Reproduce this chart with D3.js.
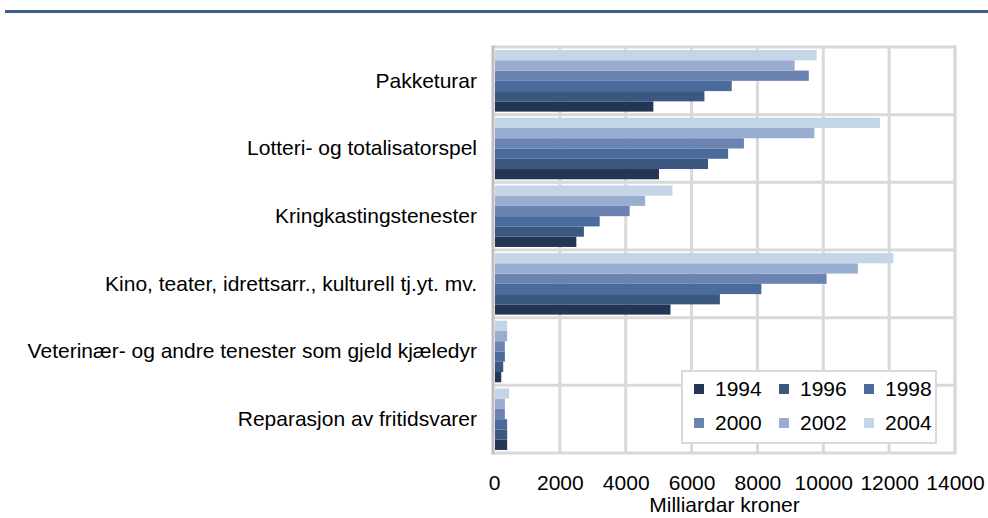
<!DOCTYPE html>
<html>
<head>
<meta charset="utf-8">
<script src="https://cdn.jsdelivr.net/npm/d3@7"></script>
<style>
    body { margin: 0; background: #fff; }
    svg text { font-family: "Liberation Sans", Arial, sans-serif; fill: #000; }
</style>
</head>
<body>
<div id="chart"></div>
<script>
// Data
var categories = [
    "Pakketurar",
    "Lotteri- og totalisatorspel",
    "Kringkastingstenester",
    "Kino, teater, idrettsarr., kulturell tj.yt. mv.",
    "Veterinær- og andre tenester som gjeld kjæledyr",
    "Reparasjon av fritidsvarer"
];
var years = ["1994", "1996", "1998", "2000", "2002", "2004"];
var values1994 = [4840, 5010, 2500, 5360, 220, 400];
var values1996 = [6390, 6500, 2730, 6860, 280, 400];
var values1998 = [7220, 7110, 3210, 8120, 330, 400];
var values2000 = [9560, 7590, 4120, 10100, 330, 330];
var values2002 = [9130, 9730, 4590, 11050, 400, 330];
var values2004 = [9800, 11720, 5420, 12130, 400, 460];
var seriesValues = [values1994, values1996, values1998, values2000, values2002, values2004];
var xTicks = [0, 2000, 4000, 6000, 8000, 10000, 12000, 14000];
var colors = ["#233654", "#3c5780", "#4a6b9c", "#6a83b1", "#98add0", "#c5d5e8"];

var totalWidth = 988, totalHeight = 518;
var margin = {top: 47, right: 33, bottom: 65, left: 494};
var width = totalWidth - margin.left - margin.right;
var height = totalHeight - margin.top - margin.bottom;

var svg = d3.select("#chart").append("svg")
    .attr("width", totalWidth)
    .attr("height", totalHeight);

// blue rule at the top
svg.append("rect")
    .attr("x", 5).attr("y", 10)
    .attr("width", totalWidth - 5).attr("height", 3)
    .attr("fill", "#3e5c8c");

var g = svg.append("g")
    .attr("transform", "translate(" + margin.left + "," + margin.top + ")");

// Scales
var xScale = d3.scaleLinear()
    .domain([0, 14000])
    .range([0, width]);

var yScale = d3.scaleBand()
    .domain(categories)
    .range([0, height])
    .paddingInner(0.09)
    .paddingOuter(0.045);

// 2004 on top, 1994 at the bottom
var yInner = d3.scaleBand()
    .domain(years.slice().reverse())
    .range([0, yScale.bandwidth()]);

var color = d3.scaleOrdinal().domain(years).range(colors);

// Grid
g.selectAll(".vgrid")
    .data(xTicks.slice(1))
    .enter().append("line")
    .attr("class", "vgrid")
    .attr("x1", function (d) { return xScale(d); })
    .attr("x2", function (d) { return xScale(d); })
    .attr("y1", 0).attr("y2", height)
    .attr("stroke", "#d9d9d9").attr("stroke-width", 3);

var step = yScale.step();
g.selectAll(".hgrid")
    .data(d3.range(categories.length + 1))
    .enter().append("line")
    .attr("class", "hgrid")
    .attr("x1", 0).attr("x2", width)
    .attr("y1", function (i) { return i * step; })
    .attr("y2", function (i) { return i * step; })
    .attr("stroke", "#d9d9d9").attr("stroke-width", 3);

// Bars
var rows = [];
categories.forEach(function (c, ci) {
    years.forEach(function (y, yi) {
        rows.push({cat: c, year: y, value: seriesValues[yi][ci]});
    });
});

g.selectAll(".bar")
    .data(rows)
    .enter().append("rect")
    .attr("class", "bar")
    .attr("x", xScale(0) + 1)
    .attr("y", function (d) { return yScale(d.cat) + yInner(d.year); })
    .attr("width", function (d) { return xScale(d.value) - xScale(0) - 1; })
    .attr("height", yInner.bandwidth())
    .attr("fill", function (d) { return color(d.year); });

// left axis line
g.append("line")
    .attr("x1", -1).attr("x2", -1)
    .attr("y1", -1.5).attr("y2", height + 1.5)
    .attr("stroke", "#bfbfbf").attr("stroke-width", 3);

// frame right
g.append("line")
    .attr("x1", xScale(14000)).attr("x2", xScale(14000))
    .attr("y1", -1.5).attr("y2", height + 1.5)
    .attr("stroke", "#d9d9d9").attr("stroke-width", 3);

// x axis labels
var xAxis = g.append("g")
    .attr("class", "x_axis")
    .attr("transform", "translate(0," + height + ")")
    .call(d3.axisBottom(xScale).tickValues(xTicks).tickSize(0).tickPadding(22).tickFormat(d3.format("d")));
xAxis.select(".domain").remove();
xAxis.selectAll("text")
    .style("font-size", "21px")
    .attr("fill", "#000");

// category labels
var yAxis = g.append("g")
    .attr("class", "y_axis")
    .call(d3.axisLeft(yScale).tickSize(0).tickPadding(17));
yAxis.select(".domain").remove();
yAxis.selectAll("text")
    .style("font-size", "21px")
    .attr("fill", "#000");

// axis title
g.append("text")
    .attr("x", width / 2)
    .attr("y", height + 59)
    .attr("text-anchor", "middle")
    .style("font-size", "21px")
    .text("Milliardar kroner");

// Legend
var legend = svg.append("g")
    .attr("transform", "translate(682,371)");
legend.append("rect")
    .attr("width", 254).attr("height", 72)
    .attr("fill", "#fff")
    .attr("stroke", "#d9d9d9").attr("stroke-width", 2);

var item = legend.selectAll(".item")
    .data(years)
    .enter().append("g")
    .attr("class", "item")
    .attr("transform", function (d, i) {
        return "translate(" + (12 + (i % 3) * 85) + "," + (18 + Math.floor(i / 3) * 34) + ")";
    });
item.append("rect")
    .attr("y", -5).attr("width", 10).attr("height", 10)
    .attr("fill", function (d) { return color(d); });
item.append("text")
    .attr("x", 21).attr("y", 7)
    .style("font-size", "21px")
    .text(function (d) { return d; });
</script>
</body>
</html>
